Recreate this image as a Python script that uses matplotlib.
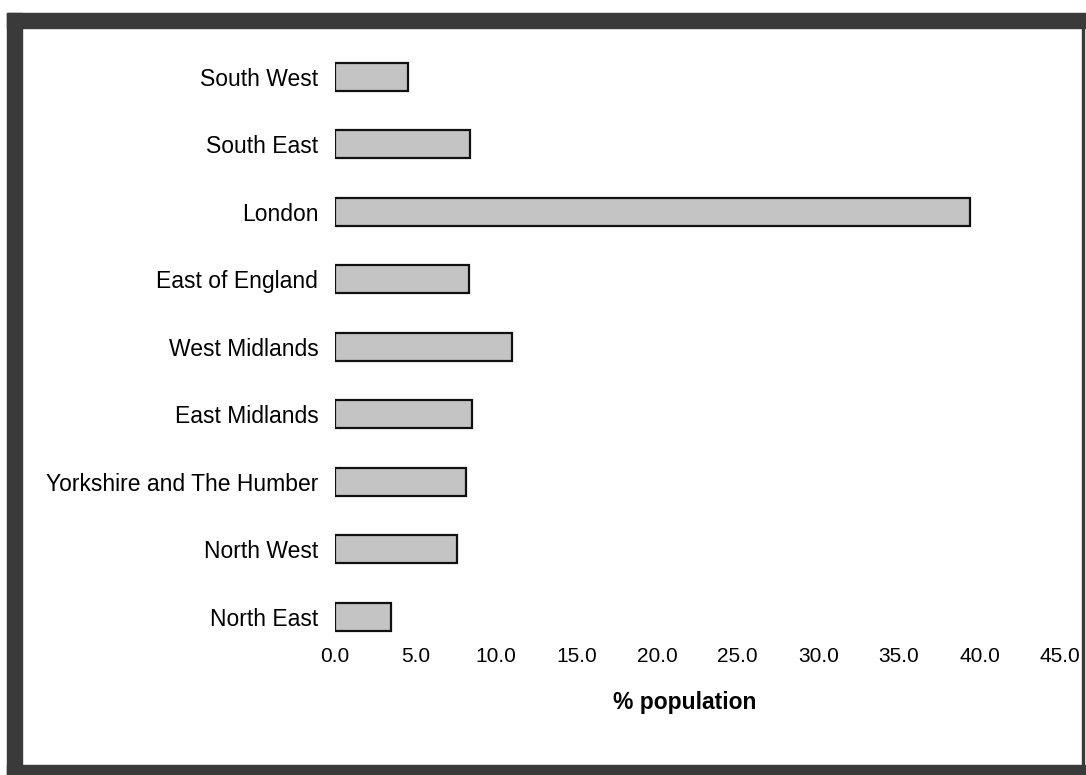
import matplotlib
matplotlib.use("Agg")
import matplotlib.pyplot as plt
from matplotlib.patches import Rectangle

# data (bottom to top)
regions = ["North East", "North West", "Yorkshire and The Humber", "East Midlands",
           "West Midlands", "East of England", "London", "South East", "South West"]
pct_population = [3.5, 7.6, 8.1, 8.5, 11.0, 8.3, 39.4, 8.4, 4.5]
x_ticks = [0, 5, 10, 15, 20, 25, 30, 35, 40, 45]

plt.rcParams['font.family'] = ['Liberation Sans', 'DejaVu Sans']

fig = plt.figure(figsize=(10.86, 7.75), dpi=100)
fig.patch.set_facecolor('white')

# thick dark scan border (left, top, bottom) and thin line on the right
border = '#3a3a3a'
fig.patches.append(Rectangle((7 / 1086, 0), 15 / 1086, 1 - 13 / 775,
                             transform=fig.transFigure, color=border, zorder=0))
fig.patches.append(Rectangle((7 / 1086, 1 - 28 / 775), 1, 15 / 775,
                             transform=fig.transFigure, color=border, zorder=0))
fig.patches.append(Rectangle((7 / 1086, 0), 1, 10 / 775,
                             transform=fig.transFigure, color=border, zorder=0))
fig.patches.append(Rectangle((1082 / 1086, 10 / 775), 2 / 1086, 1 - 38 / 775,
                             transform=fig.transFigure, color=border, zorder=0))

ax = fig.add_axes([335 / 1086, 1 - 635 / 775, (1060 - 335) / 1086, (635 - 43) / 775])
ax.barh(range(len(regions)), pct_population, height=0.42,
        color='#c4c4c4', edgecolor='#111111', linewidth=1.6)

ax.set_xlim(0, 45)
ax.set_ylim(-0.27, 8.5)
ax.set_yticks(range(len(regions)))
ax.set_yticklabels(regions, fontsize=16.5)
ax.set_xticks(x_ticks)
ax.set_xticklabels([f"{v:.1f}" for v in x_ticks], fontsize=15)
ax.tick_params(axis='y', length=0, pad=12)
ax.tick_params(axis='x', length=0, pad=9)
ax.set_xlabel("% population", fontsize=16.5, fontweight='bold')
ax.xaxis.set_label_coords(0.483, -0.095)

for s in ax.spines.values():
    s.set_visible(False)

fig.savefig("out.png", dpi=100)
